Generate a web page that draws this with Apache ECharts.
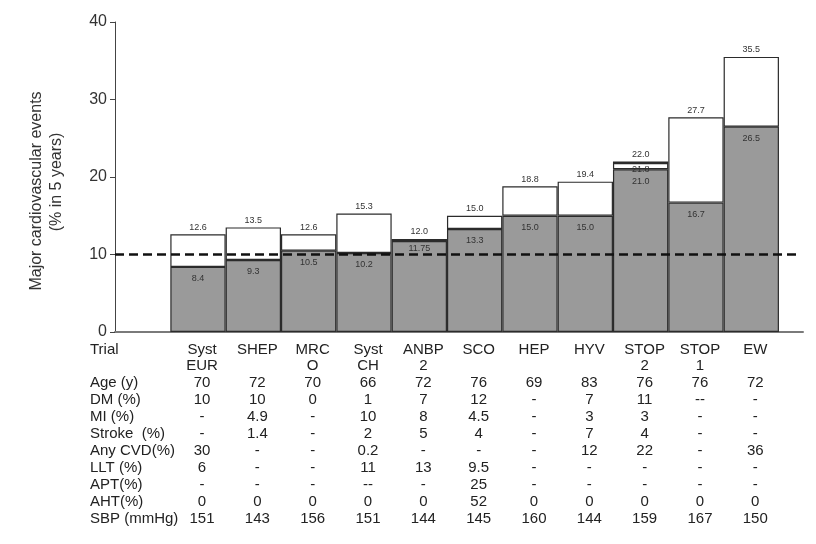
<!DOCTYPE html>
<html><head><meta charset="utf-8">
<script src="https://cdn.jsdelivr.net/npm/echarts@6/dist/echarts.min.js"></script>
<style>html,body{margin:0;padding:0;background:#fff}#c{width:816px;height:544px}</style>
</head><body><div id="c"></div>
<script>
// ---- data ----
const trials = ['Syst\nEUR', 'SHEP', 'MRC\nO', 'Syst\nCH', 'ANBP\n2', 'SCO', 'HEP', 'HYV', 'STOP\n2', 'STOP\n1', 'EW'];
const lowerValues = [8.4, 9.3, 10.5, 10.2, 11.75, 13.3, 15.0, 15.0, 21.0, 16.7, 26.5];
const whiteTops   = [12.6, 13.5, 12.6, 15.3, null, 15.0, 18.8, 19.4, 21.8, 27.7, 35.5];
const grayTops    = [null, null, null, null, 12.0, null, null, null, 22.0, null, null];
const thresholdValue = 10;
const yTicks = [0, 10, 20, 30, 40];

const rowHeaders = ['Trial', '', 'Age (y)', 'DM (%)', 'MI (%)', 'Stroke  (%)', 'Any CVD(%)', 'LLT (%)', 'APT(%)', 'AHT(%)', 'SBP (mmHg)'];
const ageRow    = ['70', '72', '70', '66', '72', '76', '69', '83', '76', '76', '72'];
const dmRow     = ['10', '10', '0', '1', '7', '12', '-', '7', '11', '--', '-'];
const miRow     = ['-', '4.9', '-', '10', '8', '4.5', '-', '3', '3', '-', '-'];
const strokeRow = ['-', '1.4', '-', '2', '5', '4', '-', '7', '4', '-', '-'];
const cvdRow    = ['30', '-', '-', '0.2', '-', '-', '-', '12', '22', '-', '36'];
const lltRow    = ['6', '-', '-', '11', '13', '9.5', '-', '-', '-', '-', '-'];
const aptRow    = ['-', '-', '-', '--', '-', '25', '-', '-', '-', '-', '-'];
const ahtRow    = ['0', '0', '0', '0', '0', '52', '0', '0', '0', '0', '0'];
const sbpRow    = ['151', '143', '156', '151', '144', '145', '160', '144', '159', '167', '150'];

// ---- layout ----
const GRID_LEFT = 115, GRID_TOP = 22, GRID_H = 310;
const SLOT = 55.33;
const AXIS_END = 803, DASH_END = 798;
const yMax = yTicks[yTicks.length - 1];
const pxPerUnit = GRID_H / yMax;
const lineY = GRID_H - thresholdValue * pxPerUnit; // relative to grid top

function fmt(v) { return Number.isInteger(Math.round(v * 100) / 10) ? v.toFixed(1) : String(v); }

const cats = [''].concat(trials);
const GRAY = '#9a9a9a', EDGE = '#2b2b2b';
const labelBase = { show: true, fontSize: 9, lineHeight: 10, color: '#333', fontFamily: 'Liberation Sans, Arial, sans-serif' };

// lower gray segment
const lowerData = [null].concat(lowerValues.map((v) => {
  const topPx = GRID_H - v * pxPerUnit;
  let center = topPx + 12;
  if (Math.abs(center - lineY) < 8) {
    if (lineY - topPx >= 10) center = (topPx + lineY) / 2 + 0.5;
    else center = lineY + 12;
  }
  return { value: v, label: Object.assign({}, labelBase, { position: ['50%', center - topPx], align: 'center', verticalAlign: 'middle', formatter: fmt(v) }) };
}));
// white middle segment
const whiteData = [null].concat(whiteTops.map((t, i) => {
  if (t == null) return null;
  const hasTop = grayTops[i] != null;
  return {
    value: +(t - lowerValues[i]).toFixed(4),
    label: hasTop
      ? Object.assign({}, labelBase, { position: ['50%', 6], align: 'center', verticalAlign: 'middle', formatter: fmt(t) })
      : Object.assign({}, labelBase, { position: 'top', distance: 2, formatter: fmt(t) })
  };
}));
// thin gray top segment
const topData = [null].concat(grayTops.map((t, i) => {
  if (t == null) return null;
  const base = whiteTops[i] != null ? whiteTops[i] : lowerValues[i];
  return { value: +(t - base).toFixed(4), label: Object.assign({}, labelBase, { position: 'top', distance: 2, formatter: fmt(t) }) };
}));

function column(i) {
  const nameLines = trials[i].split('\n');
  const l1 = nameLines[0], l2 = nameLines[1] || ' ';
  return [l1, l2, ageRow[i], dmRow[i], miRow[i], strokeRow[i], cvdRow[i], lltRow[i], aptRow[i], ahtRow[i], sbpRow[i]].join('\n');
}

const FONT = 'Liberation Sans, Arial, sans-serif';
const chart = echarts.init(document.getElementById('c'), null, { renderer: 'canvas' });
const gridW1 = SLOT * cats.length;
const gridW2 = AXIS_END - GRID_LEFT;
const option = {
  animation: false,
  backgroundColor: '#fff',
  grid: [
    { left: GRID_LEFT, top: GRID_TOP, width: gridW1, height: GRID_H, containLabel: false },
    { left: GRID_LEFT, top: GRID_TOP, width: gridW2, height: GRID_H, containLabel: false }
  ],
  xAxis: [
    { type: 'category', gridIndex: 0, data: cats, boundaryGap: true,
      axisLine: { show: false }, axisTick: { show: false }, splitLine: { show: false },
      axisLabel: { interval: 0, margin: 9, fontSize: 15, lineHeight: 16.9, color: '#222', fontFamily: FONT, align: 'center', padding: [0, 0, 0, 8],
        formatter: (val, idx) => idx === 0 ? '' : column(idx - 1) } },
    { type: 'value', gridIndex: 1, min: 0, max: 1,
      axisLine: { show: true, onZero: false, lineStyle: { color: '#7a7a7a', width: 2 } },
      axisTick: { show: false }, axisLabel: { show: false }, splitLine: { show: false } }
  ],
  yAxis: [
    { type: 'value', gridIndex: 0, min: yTicks[0], max: yMax, interval: yTicks[1] - yTicks[0],
      axisLine: { show: true, lineStyle: { color: '#444', width: 1 } },
      axisTick: { show: true, length: 5, lineStyle: { color: '#444' } },
      axisLabel: { fontSize: 16, color: '#333', margin: 8, fontFamily: FONT },
      splitLine: { show: false } },
    { type: 'value', gridIndex: 1, min: yTicks[0], max: yMax, show: false }
  ],
  series: [
    { type: 'bar', name: 'lower', xAxisIndex: 0, yAxisIndex: 0, stack: 'a', barWidth: '100%', barGap: '0%',
      itemStyle: { color: GRAY, borderColor: EDGE, borderWidth: 1.2 }, data: lowerData },
    { type: 'bar', name: 'upper', xAxisIndex: 0, yAxisIndex: 0, stack: 'a', barWidth: '100%',
      itemStyle: { color: '#fff', borderColor: EDGE, borderWidth: 1.2 }, data: whiteData },
    { type: 'bar', name: 'top', xAxisIndex: 0, yAxisIndex: 0, stack: 'a', barWidth: '100%',
      itemStyle: { color: GRAY, borderColor: EDGE, borderWidth: 1.2 }, data: topData },
    { type: 'line', name: 'threshold', xAxisIndex: 1, yAxisIndex: 1, data: [], z: 10,
      markLine: { silent: true, symbol: 'none', animation: false,
        lineStyle: { type: [9, 5], color: '#111', width: 2.5 }, label: { show: false },
        data: [[{ coord: [0, thresholdValue] }, { coord: [(DASH_END - GRID_LEFT) / gridW2, thresholdValue] }]] } }
  ],
  graphic: [
    { type: 'text', left: 90, top: 341, style: { text: rowHeaders.join('\n'), font: '15px ' + FONT, lineHeight: 16.9, fill: '#222' } },
    { type: 'text', x: 37, y: 191, rotation: Math.PI / 2, style: { text: 'Major cardiovascular events', font: '16px ' + FONT, fill: '#333', align: 'center', verticalAlign: 'middle' } },
    { type: 'text', x: 57, y: 182, rotation: Math.PI / 2, style: { text: '(% in 5 years)', font: '16px ' + FONT, fill: '#333', align: 'center', verticalAlign: 'middle' } }
  ]
};
chart.setOption(option);
</script>
</body></html>
